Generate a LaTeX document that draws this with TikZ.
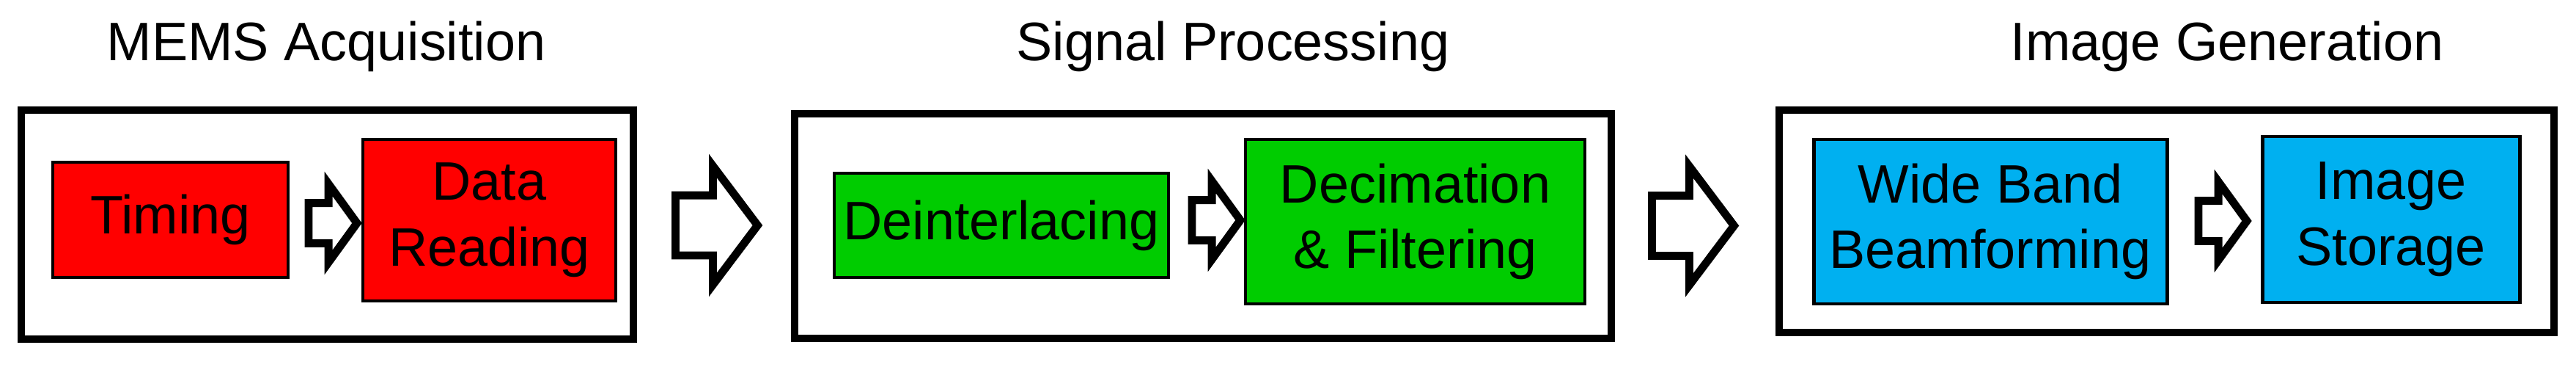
\documentclass[tikz,border=0pt]{standalone}
\usepackage{fontspec}
\setmainfont{Liberation Sans}
\usepackage{xcolor}
\usepackage{tikz}
\usetikzlibrary{shapes.arrows}

\definecolor{acqred}{HTML}{FF0000}
\definecolor{procgreen}{HTML}{00CC00}
\definecolor{genblue}{HTML}{00B0F0}

\begin{document}
\begin{tikzpicture}[
    font=\fontsize{21}{25.5}\selectfont,
    stage/.style={draw, line width=2.8pt, inner sep=0pt},
    block/.style={draw, line width=1.4pt, inner sep=0pt, align=center},
    title/.style={anchor=base, inner sep=0pt},
    flow/.style={single arrow, draw, fill=white, line width=3.1pt, anchor=tail,
        inner xsep=0pt, text height=0pt, text depth=0pt},
    smallflow/.style={flow, inner ysep=0.22cm, minimum height=0.66cm,
        single arrow head extend=0.26cm, single arrow tip angle=108},
    bigflow/.style={flow, inner ysep=0.355cm, minimum height=1.12cm,
        single arrow head extend=0.4cm, single arrow tip angle=106}
]
    \useasboundingbox (0,0) rectangle (35.14,4.99);

    % Titles
    \node[title] (acqtitle) at (4.45,4.16) {MEMS Acquisition};
    \node[title] (proctitle) at (16.82,4.16) {Signal Processing};
    \node[title] (gentitle) at (30.38,4.16) {Image Generation};

    % Stage frames
    \node[stage, minimum width=8.35cm, minimum height=3.12cm] (acq) at (4.465,1.93) {};
    \node[stage, minimum width=11.14cm, minimum height=3.06cm] (proc) at (16.41,1.91) {};
    \node[stage, minimum width=10.57cm, minimum height=3.03cm] (gen) at (29.555,1.975) {};

    % MEMS acquisition
    \node[block, fill=acqred, minimum width=3.21cm, minimum height=1.57cm] (timing) at (2.325,1.995) {Timing};
    \node[block, fill=acqred, minimum width=3.45cm, minimum height=2.20cm] (reading) at (6.675,1.99) {Data\\Reading};

    % Signal processing
    \node[block, fill=procgreen, minimum width=4.56cm, minimum height=1.42cm] (deint) at (13.66,1.92) {Deinterlacing};
    \node[block, fill=procgreen, minimum width=4.63cm, minimum height=2.24cm] (decim) at (19.305,1.97) {Decimation\\\& Filtering};

    % Image generation
    \node[block, fill=genblue, minimum width=4.82cm, minimum height=2.24cm] (beam) at (27.15,1.97) {Wide Band\\Beamforming};
    \node[block, fill=genblue, minimum width=3.51cm, minimum height=2.26cm] (storage) at (32.615,2.00) {Image\\Storage};

    % Block arrows
    \node[smallflow] (timing2reading) at (4.155,1.95) {};
    \node[smallflow] (deint2decim) at (16.205,1.99) {};
    \node[smallflow] (beam2storage) at (29.935,1.98) {};
    \node[bigflow] (acq2proc) at (9.16,1.92) {};
    \node[bigflow] (proc2gen) at (22.48,1.915) {};
\end{tikzpicture}
\end{document}
